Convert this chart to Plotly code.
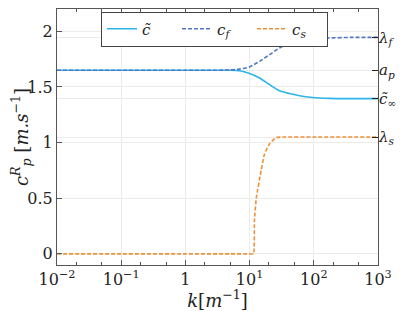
import plotly.graph_objects as go

# wavenumber samples [1/m]
k_vals = [0.01, 0.1, 1, 3, 4.9, 7.0, 10, 14.3, 20.5, 29.3, 41.9, 60, 95, 175, 400, 1000]
c_tilde = [1.65, 1.65, 1.65, 1.65, 1.65, 1.645, 1.62, 1.58, 1.52, 1.465, 1.44, 1.42, 1.405, 1.397, 1.395, 1.395]
c_f = [1.65, 1.65, 1.65, 1.65, 1.652, 1.66, 1.68, 1.73, 1.79, 1.85, 1.89, 1.917, 1.93, 1.94, 1.945, 1.945]

k_s = [0.01, 0.1, 1, 5, 10, 11.5, 11.9, 12.7, 15.2, 17.1, 20.5, 26, 35, 100, 1000]
c_s = [0, 0, 0, 0, 0, 0, 0.3, 0.5, 0.755, 0.9, 0.99, 1.045, 1.05, 1.05, 1.05]

x_tickvals = [0.01, 0.1, 1, 10, 100, 1000]
x_ticktext = ["10<sup>−2</sup>", "10<sup>−1</sup>", "1", "10<sup>1</sup>", "10<sup>2</sup>", "10<sup>3</sup>"]
y_tickvals = [0, 0.5, 1, 1.5, 2]
y_ticktext = ["0", "0.5", "1", "1.5", "2"]
right_tickvals = [1.05, 1.395, 1.65, 1.94]
right_ticktext = ["<i>λ<sub>s</sub></i>", "<i>c̃<sub>∞</sub></i>", "<i>a<sub>p</sub></i>", "<i>λ<sub>f</sub></i>"]

FONT = "DejaVu Serif, Liberation Serif, Lato"
GRID = "#ebebeb"
AXIS = "#555555"

fig = go.Figure()
fig.add_trace(go.Scatter(
    x=k_vals, y=c_tilde, mode="lines", name="<i>c̃</i>",
    line={"color": "#2db4ea", "width": 1.6, "shape": "spline", "smoothing": 0.6},
))
fig.add_trace(go.Scatter(
    x=k_vals, y=c_f, mode="lines", name="<i>c<sub>f</sub></i>",
    line={"color": "#4f78bf", "width": 1.6, "dash": "4px,2px", "shape": "spline", "smoothing": 0.6},
))
fig.add_trace(go.Scatter(
    x=k_s, y=c_s, mode="lines", name="<i>c<sub>s</sub></i>",
    line={"color": "#f0903a", "width": 1.6, "dash": "4px,2px", "shape": "spline", "smoothing": 0.4},
))
# invisible trace to activate the right-hand axis
fig.add_trace(go.Scatter(x=[0.01], y=[0], yaxis="y2", mode="markers",
                         marker={"opacity": 0}, showlegend=False, hoverinfo="skip"))

# the page body adds an 8px margin, so the figure is 8px smaller and shifted
fig.update_layout(
    width=407, height=303,
    margin={"l": 49, "r": 37, "t": 1, "b": 46, "autoexpand": False},
    paper_bgcolor="white", plot_bgcolor="white",
    font={"family": FONT, "size": 15, "color": "#222222"},
    showlegend=True,
    legend={
        "orientation": "h", "x": 0.137, "y": 0.99, "xanchor": "left", "yanchor": "top",
        "bordercolor": "#444444", "borderwidth": 1, "bgcolor": "white",
        "font": {"family": FONT, "size": 15},
        "entrywidth": 30, "entrywidthmode": "pixels", "itemwidth": 30,
    },
    xaxis={
        "type": "log", "range": [-2, 3], "automargin": False,
        "tickvals": x_tickvals, "ticktext": x_ticktext,
        "ticks": "inside", "ticklen": 5, "tickcolor": AXIS,
        "minor": {"ticks": "inside", "ticklen": 3, "tickcolor": AXIS, "showgrid": False},
        "showgrid": True, "gridcolor": GRID,
        "showline": True, "linecolor": AXIS, "linewidth": 1, "mirror": "ticks",
        "zeroline": False,
        "title": {"text": "<i>k</i>[<i>m</i><sup>−1</sup>]", "standoff": 0},
        "tickfont": {"size": 16},
    },
    yaxis={
        "range": [-0.1, 2.2], "automargin": False,
        "tickvals": y_tickvals, "ticktext": y_ticktext,
        "ticks": "inside", "ticklen": 5, "tickcolor": AXIS,
        "showgrid": True, "gridcolor": GRID,
        "showline": True, "linecolor": AXIS, "linewidth": 1, "mirror": True,
        "zeroline": False,
        "title": {"text": "<i>c<sup>R</sup><sub>p</sub></i> [<i>m.s</i><sup>−1</sup>]", "standoff": 6},
        "tickfont": {"size": 16},
    },
    yaxis2={
        "overlaying": "y", "side": "right", "range": [-0.1, 2.2], "automargin": False,
        "tickvals": right_tickvals, "ticktext": right_ticktext,
        "ticks": "inside", "ticklen": 6, "tickcolor": "#222222",
        "showgrid": True, "gridcolor": GRID,
        "showline": False, "zeroline": False,
        "tickfont": {"size": 15},
    },
)

fig.write_html("out.html")
